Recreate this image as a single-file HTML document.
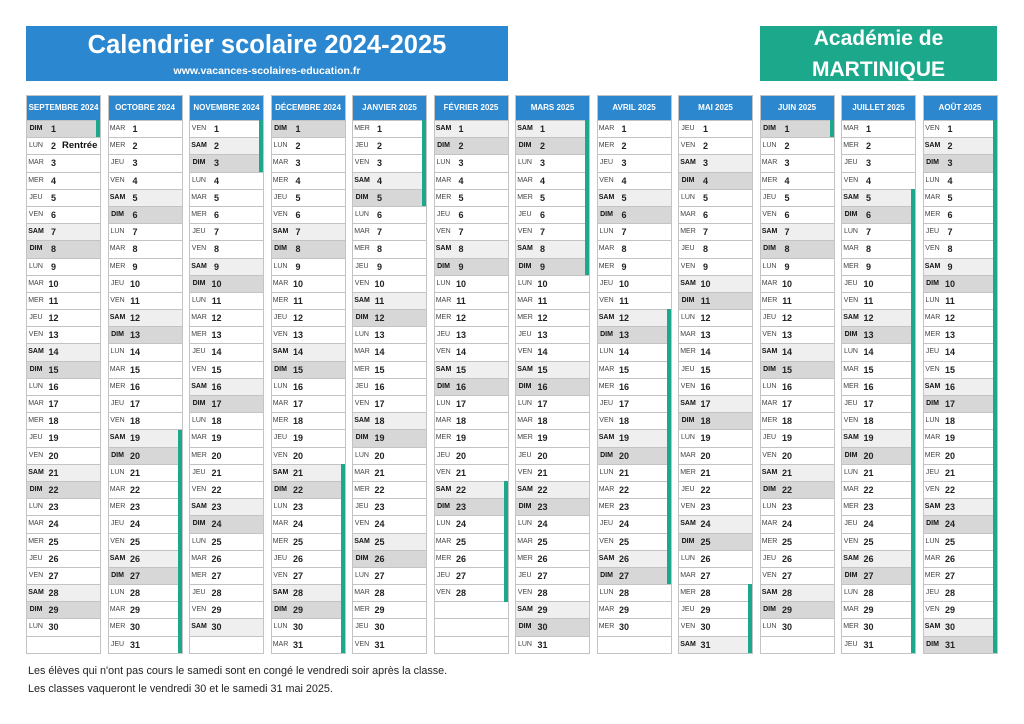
<!DOCTYPE html>
<html><head><meta charset="utf-8"><style>
body{margin:0;width:1024px;height:724px;position:relative;overflow:hidden;background:#fff;font-family:"Liberation Sans",sans-serif}
.t{position:absolute;left:26px;top:26px;width:482px;height:55px;background:#2b88d0}
.a{position:absolute;left:760px;top:26px;width:237px;height:55px;background:#1ca88b}
.x{position:absolute;line-height:1;color:#fff;font-weight:bold;white-space:nowrap;text-align:center}
.f{position:absolute;left:28px;line-height:1;font-size:10.8px;color:#222;white-space:nowrap}
.c{position:absolute;top:95px;width:75px;height:559.2px;border:1px solid #c3c3c3;box-sizing:border-box;background:#fff}
.h{height:24px;background:#2c87cf;color:#fff;font-weight:bold;font-size:8px;line-height:24px;text-align:center;white-space:nowrap;overflow:hidden}
.c p{margin:0;height:17.2px;border-top:1px solid #c3c3c3;box-sizing:border-box;position:relative}
.c p.s{background:#efefef}.c p.d{background:#d7d7d7}
.c i{position:absolute;left:0;top:0;width:18px;text-align:center;font-style:normal;font-size:7px;color:#444;line-height:16.2px}
.c p.s i,.c p.d i{font-weight:bold;color:#111}
.c b{position:absolute;left:18px;top:0;width:17px;text-align:center;font-size:9px;color:#222;line-height:16.2px}
.c u{position:absolute;left:35px;top:0;text-decoration:none;font-weight:bold;font-size:9.5px;color:#111;line-height:16.2px}
.g{position:absolute;right:0;width:4px;background:#1ca88b}
</style></head><body>
<div class="t"></div>
<div class="x" style="left:26px;width:482px;top:33.4px;font-size:25.5px">Calendrier scolaire 2024-2025</div>
<div class="x" style="left:26px;width:482px;top:66.4px;font-size:10.5px">www.vacances-scolaires-education.fr</div>
<div class="a"></div>
<div class="x" style="left:760px;width:237px;top:28.2px;font-size:21px">Académie de</div>
<div class="x" style="left:760px;width:237px;top:59.2px;font-size:21px">MARTINIQUE</div>

<div class="c" style="left:26px"><div class="h">SEPTEMBRE 2024</div>
<p class=d><i>DIM</i><b>1</b></p><p><i>LUN</i><b>2</b><u>Rentrée</u></p><p><i>MAR</i><b>3</b></p><p><i>MER</i><b>4</b></p><p><i>JEU</i><b>5</b></p><p><i>VEN</i><b>6</b></p><p class=s><i>SAM</i><b>7</b></p>
<p class=d><i>DIM</i><b>8</b></p><p><i>LUN</i><b>9</b></p><p><i>MAR</i><b>10</b></p><p><i>MER</i><b>11</b></p><p><i>JEU</i><b>12</b></p><p><i>VEN</i><b>13</b></p><p class=s><i>SAM</i><b>14</b></p>
<p class=d><i>DIM</i><b>15</b></p><p><i>LUN</i><b>16</b></p><p><i>MAR</i><b>17</b></p><p><i>MER</i><b>18</b></p><p><i>JEU</i><b>19</b></p><p><i>VEN</i><b>20</b></p><p class=s><i>SAM</i><b>21</b></p>
<p class=d><i>DIM</i><b>22</b></p><p><i>LUN</i><b>23</b></p><p><i>MAR</i><b>24</b></p><p><i>MER</i><b>25</b></p><p><i>JEU</i><b>26</b></p><p><i>VEN</i><b>27</b></p><p class=s><i>SAM</i><b>28</b></p>
<p class=d><i>DIM</i><b>29</b></p><p><i>LUN</i><b>30</b></p><p></p>
<div class="g" style="top:24px;height:17.2px"></div></div>

<div class="c" style="left:107.5px"><div class="h">OCTOBRE 2024</div>
<p><i>MAR</i><b>1</b></p><p><i>MER</i><b>2</b></p><p><i>JEU</i><b>3</b></p><p><i>VEN</i><b>4</b></p><p class=s><i>SAM</i><b>5</b></p><p class=d><i>DIM</i><b>6</b></p>
<p><i>LUN</i><b>7</b></p><p><i>MAR</i><b>8</b></p><p><i>MER</i><b>9</b></p><p><i>JEU</i><b>10</b></p><p><i>VEN</i><b>11</b></p><p class=s><i>SAM</i><b>12</b></p><p class=d><i>DIM</i><b>13</b></p>
<p><i>LUN</i><b>14</b></p><p><i>MAR</i><b>15</b></p><p><i>MER</i><b>16</b></p><p><i>JEU</i><b>17</b></p><p><i>VEN</i><b>18</b></p><p class=s><i>SAM</i><b>19</b></p><p class=d><i>DIM</i><b>20</b></p>
<p><i>LUN</i><b>21</b></p><p><i>MAR</i><b>22</b></p><p><i>MER</i><b>23</b></p><p><i>JEU</i><b>24</b></p><p><i>VEN</i><b>25</b></p><p class=s><i>SAM</i><b>26</b></p><p class=d><i>DIM</i><b>27</b></p>
<p><i>LUN</i><b>28</b></p><p><i>MAR</i><b>29</b></p><p><i>MER</i><b>30</b></p><p><i>JEU</i><b>31</b></p>
<div class="g" style="top:333.6px;height:223.6px"></div></div>

<div class="c" style="left:189px"><div class="h">NOVEMBRE 2024</div>
<p><i>VEN</i><b>1</b></p><p class=s><i>SAM</i><b>2</b></p><p class=d><i>DIM</i><b>3</b></p>
<p><i>LUN</i><b>4</b></p><p><i>MAR</i><b>5</b></p><p><i>MER</i><b>6</b></p><p><i>JEU</i><b>7</b></p><p><i>VEN</i><b>8</b></p><p class=s><i>SAM</i><b>9</b></p><p class=d><i>DIM</i><b>10</b></p>
<p><i>LUN</i><b>11</b></p><p><i>MAR</i><b>12</b></p><p><i>MER</i><b>13</b></p><p><i>JEU</i><b>14</b></p><p><i>VEN</i><b>15</b></p><p class=s><i>SAM</i><b>16</b></p><p class=d><i>DIM</i><b>17</b></p>
<p><i>LUN</i><b>18</b></p><p><i>MAR</i><b>19</b></p><p><i>MER</i><b>20</b></p><p><i>JEU</i><b>21</b></p><p><i>VEN</i><b>22</b></p><p class=s><i>SAM</i><b>23</b></p><p class=d><i>DIM</i><b>24</b></p>
<p><i>LUN</i><b>25</b></p><p><i>MAR</i><b>26</b></p><p><i>MER</i><b>27</b></p><p><i>JEU</i><b>28</b></p><p><i>VEN</i><b>29</b></p><p class=s><i>SAM</i><b>30</b></p><p></p>
<div class="g" style="top:24px;height:51.6px"></div></div>

<div class="c" style="left:270.5px"><div class="h">DÉCEMBRE 2024</div>
<p class=d><i>DIM</i><b>1</b></p><p><i>LUN</i><b>2</b></p><p><i>MAR</i><b>3</b></p><p><i>MER</i><b>4</b></p><p><i>JEU</i><b>5</b></p><p><i>VEN</i><b>6</b></p><p class=s><i>SAM</i><b>7</b></p>
<p class=d><i>DIM</i><b>8</b></p><p><i>LUN</i><b>9</b></p><p><i>MAR</i><b>10</b></p><p><i>MER</i><b>11</b></p><p><i>JEU</i><b>12</b></p><p><i>VEN</i><b>13</b></p><p class=s><i>SAM</i><b>14</b></p>
<p class=d><i>DIM</i><b>15</b></p><p><i>LUN</i><b>16</b></p><p><i>MAR</i><b>17</b></p><p><i>MER</i><b>18</b></p><p><i>JEU</i><b>19</b></p><p><i>VEN</i><b>20</b></p><p class=s><i>SAM</i><b>21</b></p>
<p class=d><i>DIM</i><b>22</b></p><p><i>LUN</i><b>23</b></p><p><i>MAR</i><b>24</b></p><p><i>MER</i><b>25</b></p><p><i>JEU</i><b>26</b></p><p><i>VEN</i><b>27</b></p><p class=s><i>SAM</i><b>28</b></p>
<p class=d><i>DIM</i><b>29</b></p><p><i>LUN</i><b>30</b></p><p><i>MAR</i><b>31</b></p>
<div class="g" style="top:368px;height:189.2px"></div></div>

<div class="c" style="left:352px"><div class="h">JANVIER 2025</div>
<p><i>MER</i><b>1</b></p><p><i>JEU</i><b>2</b></p><p><i>VEN</i><b>3</b></p><p class=s><i>SAM</i><b>4</b></p><p class=d><i>DIM</i><b>5</b></p>
<p><i>LUN</i><b>6</b></p><p><i>MAR</i><b>7</b></p><p><i>MER</i><b>8</b></p><p><i>JEU</i><b>9</b></p><p><i>VEN</i><b>10</b></p><p class=s><i>SAM</i><b>11</b></p><p class=d><i>DIM</i><b>12</b></p>
<p><i>LUN</i><b>13</b></p><p><i>MAR</i><b>14</b></p><p><i>MER</i><b>15</b></p><p><i>JEU</i><b>16</b></p><p><i>VEN</i><b>17</b></p><p class=s><i>SAM</i><b>18</b></p><p class=d><i>DIM</i><b>19</b></p>
<p><i>LUN</i><b>20</b></p><p><i>MAR</i><b>21</b></p><p><i>MER</i><b>22</b></p><p><i>JEU</i><b>23</b></p><p><i>VEN</i><b>24</b></p><p class=s><i>SAM</i><b>25</b></p><p class=d><i>DIM</i><b>26</b></p>
<p><i>LUN</i><b>27</b></p><p><i>MAR</i><b>28</b></p><p><i>MER</i><b>29</b></p><p><i>JEU</i><b>30</b></p><p><i>VEN</i><b>31</b></p>
<div class="g" style="top:24px;height:86px"></div></div>

<div class="c" style="left:433.5px"><div class="h">FÉVRIER 2025</div>
<p class=s><i>SAM</i><b>1</b></p><p class=d><i>DIM</i><b>2</b></p>
<p><i>LUN</i><b>3</b></p><p><i>MAR</i><b>4</b></p><p><i>MER</i><b>5</b></p><p><i>JEU</i><b>6</b></p><p><i>VEN</i><b>7</b></p><p class=s><i>SAM</i><b>8</b></p><p class=d><i>DIM</i><b>9</b></p>
<p><i>LUN</i><b>10</b></p><p><i>MAR</i><b>11</b></p><p><i>MER</i><b>12</b></p><p><i>JEU</i><b>13</b></p><p><i>VEN</i><b>14</b></p><p class=s><i>SAM</i><b>15</b></p><p class=d><i>DIM</i><b>16</b></p>
<p><i>LUN</i><b>17</b></p><p><i>MAR</i><b>18</b></p><p><i>MER</i><b>19</b></p><p><i>JEU</i><b>20</b></p><p><i>VEN</i><b>21</b></p><p class=s><i>SAM</i><b>22</b></p><p class=d><i>DIM</i><b>23</b></p>
<p><i>LUN</i><b>24</b></p><p><i>MAR</i><b>25</b></p><p><i>MER</i><b>26</b></p><p><i>JEU</i><b>27</b></p><p><i>VEN</i><b>28</b></p><p></p><p></p><p></p>
<div class="g" style="top:385.2px;height:120.4px"></div></div>

<div class="c" style="left:515px"><div class="h">MARS 2025</div>
<p class=s><i>SAM</i><b>1</b></p><p class=d><i>DIM</i><b>2</b></p>
<p><i>LUN</i><b>3</b></p><p><i>MAR</i><b>4</b></p><p><i>MER</i><b>5</b></p><p><i>JEU</i><b>6</b></p><p><i>VEN</i><b>7</b></p><p class=s><i>SAM</i><b>8</b></p><p class=d><i>DIM</i><b>9</b></p>
<p><i>LUN</i><b>10</b></p><p><i>MAR</i><b>11</b></p><p><i>MER</i><b>12</b></p><p><i>JEU</i><b>13</b></p><p><i>VEN</i><b>14</b></p><p class=s><i>SAM</i><b>15</b></p><p class=d><i>DIM</i><b>16</b></p>
<p><i>LUN</i><b>17</b></p><p><i>MAR</i><b>18</b></p><p><i>MER</i><b>19</b></p><p><i>JEU</i><b>20</b></p><p><i>VEN</i><b>21</b></p><p class=s><i>SAM</i><b>22</b></p><p class=d><i>DIM</i><b>23</b></p>
<p><i>LUN</i><b>24</b></p><p><i>MAR</i><b>25</b></p><p><i>MER</i><b>26</b></p><p><i>JEU</i><b>27</b></p><p><i>VEN</i><b>28</b></p><p class=s><i>SAM</i><b>29</b></p><p class=d><i>DIM</i><b>30</b></p>
<p><i>LUN</i><b>31</b></p>
<div class="g" style="top:24px;height:154.8px"></div></div>

<div class="c" style="left:596.5px"><div class="h">AVRIL 2025</div>
<p><i>MAR</i><b>1</b></p><p><i>MER</i><b>2</b></p><p><i>JEU</i><b>3</b></p><p><i>VEN</i><b>4</b></p><p class=s><i>SAM</i><b>5</b></p><p class=d><i>DIM</i><b>6</b></p>
<p><i>LUN</i><b>7</b></p><p><i>MAR</i><b>8</b></p><p><i>MER</i><b>9</b></p><p><i>JEU</i><b>10</b></p><p><i>VEN</i><b>11</b></p><p class=s><i>SAM</i><b>12</b></p><p class=d><i>DIM</i><b>13</b></p>
<p><i>LUN</i><b>14</b></p><p><i>MAR</i><b>15</b></p><p><i>MER</i><b>16</b></p><p><i>JEU</i><b>17</b></p><p><i>VEN</i><b>18</b></p><p class=s><i>SAM</i><b>19</b></p><p class=d><i>DIM</i><b>20</b></p>
<p><i>LUN</i><b>21</b></p><p><i>MAR</i><b>22</b></p><p><i>MER</i><b>23</b></p><p><i>JEU</i><b>24</b></p><p><i>VEN</i><b>25</b></p><p class=s><i>SAM</i><b>26</b></p><p class=d><i>DIM</i><b>27</b></p>
<p><i>LUN</i><b>28</b></p><p><i>MAR</i><b>29</b></p><p><i>MER</i><b>30</b></p><p></p>
<div class="g" style="top:213.2px;height:275.2px"></div></div>

<div class="c" style="left:678px"><div class="h">MAI 2025</div>
<p><i>JEU</i><b>1</b></p><p><i>VEN</i><b>2</b></p><p class=s><i>SAM</i><b>3</b></p><p class=d><i>DIM</i><b>4</b></p>
<p><i>LUN</i><b>5</b></p><p><i>MAR</i><b>6</b></p><p><i>MER</i><b>7</b></p><p><i>JEU</i><b>8</b></p><p><i>VEN</i><b>9</b></p><p class=s><i>SAM</i><b>10</b></p><p class=d><i>DIM</i><b>11</b></p>
<p><i>LUN</i><b>12</b></p><p><i>MAR</i><b>13</b></p><p><i>MER</i><b>14</b></p><p><i>JEU</i><b>15</b></p><p><i>VEN</i><b>16</b></p><p class=s><i>SAM</i><b>17</b></p><p class=d><i>DIM</i><b>18</b></p>
<p><i>LUN</i><b>19</b></p><p><i>MAR</i><b>20</b></p><p><i>MER</i><b>21</b></p><p><i>JEU</i><b>22</b></p><p><i>VEN</i><b>23</b></p><p class=s><i>SAM</i><b>24</b></p><p class=d><i>DIM</i><b>25</b></p>
<p><i>LUN</i><b>26</b></p><p><i>MAR</i><b>27</b></p><p><i>MER</i><b>28</b></p><p><i>JEU</i><b>29</b></p><p><i>VEN</i><b>30</b></p><p class=s><i>SAM</i><b>31</b></p>
<div class="g" style="top:488.4px;height:68.8px"></div></div>

<div class="c" style="left:759.5px"><div class="h">JUIN 2025</div>
<p class=d><i>DIM</i><b>1</b></p><p><i>LUN</i><b>2</b></p><p><i>MAR</i><b>3</b></p><p><i>MER</i><b>4</b></p><p><i>JEU</i><b>5</b></p><p><i>VEN</i><b>6</b></p><p class=s><i>SAM</i><b>7</b></p>
<p class=d><i>DIM</i><b>8</b></p><p><i>LUN</i><b>9</b></p><p><i>MAR</i><b>10</b></p><p><i>MER</i><b>11</b></p><p><i>JEU</i><b>12</b></p><p><i>VEN</i><b>13</b></p><p class=s><i>SAM</i><b>14</b></p>
<p class=d><i>DIM</i><b>15</b></p><p><i>LUN</i><b>16</b></p><p><i>MAR</i><b>17</b></p><p><i>MER</i><b>18</b></p><p><i>JEU</i><b>19</b></p><p><i>VEN</i><b>20</b></p><p class=s><i>SAM</i><b>21</b></p>
<p class=d><i>DIM</i><b>22</b></p><p><i>LUN</i><b>23</b></p><p><i>MAR</i><b>24</b></p><p><i>MER</i><b>25</b></p><p><i>JEU</i><b>26</b></p><p><i>VEN</i><b>27</b></p><p class=s><i>SAM</i><b>28</b></p>
<p class=d><i>DIM</i><b>29</b></p><p><i>LUN</i><b>30</b></p><p></p>
<div class="g" style="top:24px;height:17.2px"></div></div>

<div class="c" style="left:841px"><div class="h">JUILLET 2025</div>
<p><i>MAR</i><b>1</b></p><p><i>MER</i><b>2</b></p><p><i>JEU</i><b>3</b></p><p><i>VEN</i><b>4</b></p><p class=s><i>SAM</i><b>5</b></p><p class=d><i>DIM</i><b>6</b></p>
<p><i>LUN</i><b>7</b></p><p><i>MAR</i><b>8</b></p><p><i>MER</i><b>9</b></p><p><i>JEU</i><b>10</b></p><p><i>VEN</i><b>11</b></p><p class=s><i>SAM</i><b>12</b></p><p class=d><i>DIM</i><b>13</b></p>
<p><i>LUN</i><b>14</b></p><p><i>MAR</i><b>15</b></p><p><i>MER</i><b>16</b></p><p><i>JEU</i><b>17</b></p><p><i>VEN</i><b>18</b></p><p class=s><i>SAM</i><b>19</b></p><p class=d><i>DIM</i><b>20</b></p>
<p><i>LUN</i><b>21</b></p><p><i>MAR</i><b>22</b></p><p><i>MER</i><b>23</b></p><p><i>JEU</i><b>24</b></p><p><i>VEN</i><b>25</b></p><p class=s><i>SAM</i><b>26</b></p><p class=d><i>DIM</i><b>27</b></p>
<p><i>LUN</i><b>28</b></p><p><i>MAR</i><b>29</b></p><p><i>MER</i><b>30</b></p><p><i>JEU</i><b>31</b></p>
<div class="g" style="top:92.8px;height:464.4px"></div></div>

<div class="c" style="left:922.5px"><div class="h">AOÛT 2025</div>
<p><i>VEN</i><b>1</b></p><p class=s><i>SAM</i><b>2</b></p><p class=d><i>DIM</i><b>3</b></p>
<p><i>LUN</i><b>4</b></p><p><i>MAR</i><b>5</b></p><p><i>MER</i><b>6</b></p><p><i>JEU</i><b>7</b></p><p><i>VEN</i><b>8</b></p><p class=s><i>SAM</i><b>9</b></p><p class=d><i>DIM</i><b>10</b></p>
<p><i>LUN</i><b>11</b></p><p><i>MAR</i><b>12</b></p><p><i>MER</i><b>13</b></p><p><i>JEU</i><b>14</b></p><p><i>VEN</i><b>15</b></p><p class=s><i>SAM</i><b>16</b></p><p class=d><i>DIM</i><b>17</b></p>
<p><i>LUN</i><b>18</b></p><p><i>MAR</i><b>19</b></p><p><i>MER</i><b>20</b></p><p><i>JEU</i><b>21</b></p><p><i>VEN</i><b>22</b></p><p class=s><i>SAM</i><b>23</b></p><p class=d><i>DIM</i><b>24</b></p>
<p><i>LUN</i><b>25</b></p><p><i>MAR</i><b>26</b></p><p><i>MER</i><b>27</b></p><p><i>JEU</i><b>28</b></p><p><i>VEN</i><b>29</b></p><p class=s><i>SAM</i><b>30</b></p><p class=d><i>DIM</i><b>31</b></p>
<div class="g" style="top:24px;height:533.2px"></div></div>

<div class="f" style="top:666.2px">Les élèves qui n'ont pas cours le samedi sont en congé le vendredi soir après la classe.</div>
<div class="f" style="top:683.6px">Les classes vaqueront le vendredi 30 et le samedi 31 mai 2025.</div>
</body></html>
